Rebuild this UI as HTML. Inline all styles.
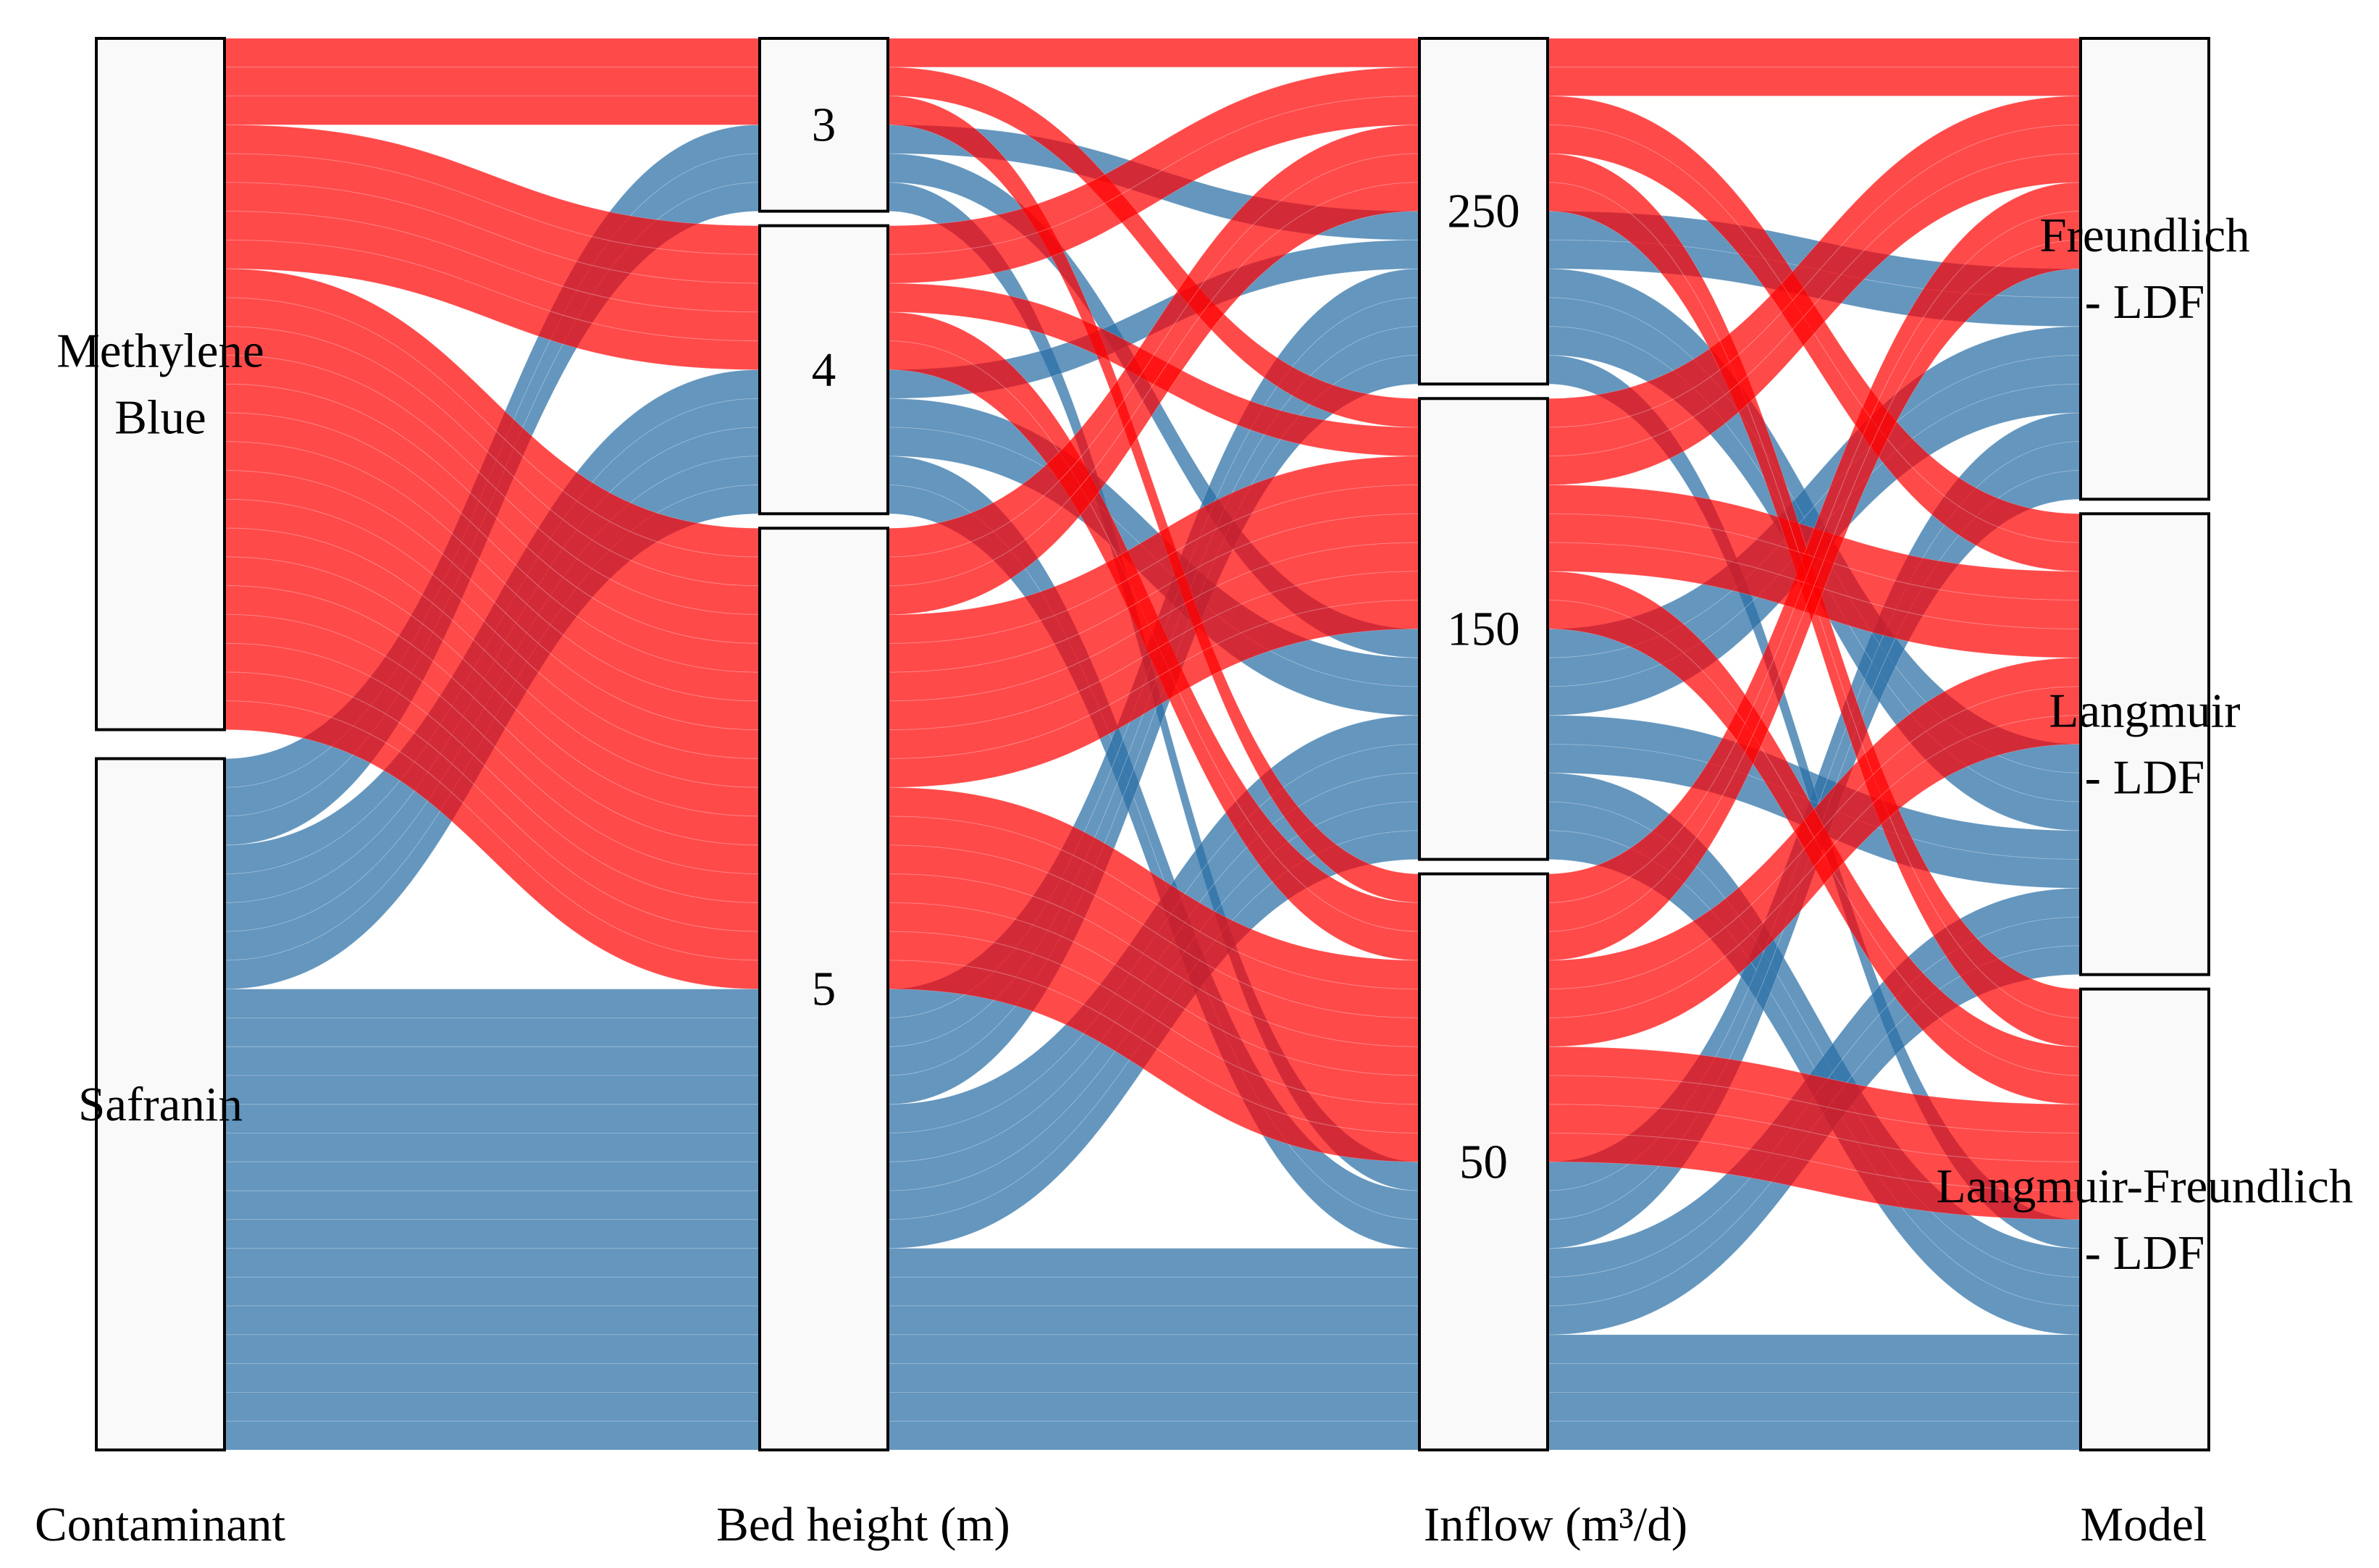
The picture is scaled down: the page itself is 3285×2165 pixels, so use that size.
<!DOCTYPE html>
<html><head><meta charset="utf-8"><style>
html,body{margin:0;padding:0;background:#fff;}
svg{display:block;}
text{font-family:"Liberation Serif",serif;fill:#000;}
</style></head><body>
<svg id="chart" width="3285" height="2165" viewBox="0 0 3285 2165" xmlns="http://www.w3.org/2000/svg">
<g id="flows"></g>
<g id="boxes"></g>
<g id="labels"></g>
</svg>
<script>
// data: one entry per record
const contaminant = ["MB","MB","MB","MB","MB","MB","MB","MB","MB","MB","MB","MB","MB","MB","MB","MB","MB","MB","MB","MB","MB","MB","MB","MB",
"S","S","S","S","S","S","S","S","S","S","S","S","S","S","S","S","S","S","S","S","S","S","S","S"];
const bedHeight = [3,3,3,4,4,4,4,4,5,5,5,5,5,5,5,5,5,5,5,5,5,5,5,5,
3,3,3,4,4,4,4,4,5,5,5,5,5,5,5,5,5,5,5,5,5,5,5,5];
const inflow = [250,150,50,250,250,150,50,50,250,250,250,150,150,150,150,150,150,50,50,50,50,50,50,50,
250,150,50,250,150,150,50,50,250,250,250,250,150,150,150,150,150,50,50,50,50,50,50,50];
const model = ["F","L","LF","L","LF","F","L","F","F","L","LF","F","L","LF","F","L","LF","F","L","LF","F","L","LF","LF",
"L","F","LF","F","LF","L","F","LF","F","L","LF","L","F","L","LF","F","LF","F","L","LF","L","F","LF","L"];
const axisTitles = ["Contaminant","Bed height (m)","Inflow (m³/d)","Model"];
const axisLevels = [["MB","S"],[3,4,5],[250,150,50],["F","L","LF"]];
const levelLabels = [[["Methylene","Blue"],["Safranin"]],[["3"],["4"],["5"]],[["250"],["150"],["50"]],[["Freundlich","- LDF"],["Langmuir","- LDF"],["Langmuir-Freundlich","- LDF"]]];

const NS="http://www.w3.org/2000/svg";
const axX=[133,1049,1960,2873], boxW=177, yTop=53, yBottom=2002, totalGap=40;
const cols=[contaminant,bedHeight,inflow,model];
const N=contaminant.length;
const colorOf=c=>c==="MB"?"rgba(255,0,0,0.71)":"rgba(40,110,165,0.72)";
const unit=(yBottom-yTop-totalGap)/N;
const nodes=axisLevels.map((lv,a)=>{
  const gap=totalGap/(lv.length-1); let y=yTop;
  return lv.map(v=>{const cnt=cols[a].filter(x=>x===v).length;const n={v,y0:y,h:cnt*unit};y+=n.h+gap;return n;});
});
const idx=(a,r)=>axisLevels[a].indexOf(cols[a][r]);
function ord(a,r,dir){
  const k=a+dir;
  return [idx(0,r),(k>=0&&k<4)?idx(k,r):0,r];
}
function cmp(x,y){for(let i=0;i<x.length;i++){if(x[i]!==y[i])return x[i]-y[i];}return 0;}
const outY=[],inY=[];
for(let a=0;a<4;a++){
  outY[a]=[];inY[a]=[];
  nodes[a].forEach((n,ni)=>{
    const rs=[...Array(N).keys()].filter(r=>idx(a,r)===ni);
    [...rs].sort((p,q)=>cmp(ord(a,p,1),ord(a,q,1))).forEach((r,i)=>outY[a][r]=n.y0+i*unit);
    [...rs].sort((p,q)=>cmp(ord(a,p,-1),ord(a,q,-1))).forEach((r,i)=>inY[a][r]=n.y0+i*unit);
  });
}
const fg=document.getElementById('flows');
for(let a=0;a<3;a++){
  const x0=axX[a]+boxW,x1=axX[a+1],mx=(x0+x1)/2;
  [...Array(N).keys()].sort((p,q)=>(contaminant[p]==="MB"?1:0)-(contaminant[q]==="MB"?1:0)).forEach(r=>{
    const ya=outY[a][r],yb=inY[a+1][r];
    const p=document.createElementNS(NS,'path');
    p.setAttribute('d',`M${x0},${ya} C${mx},${ya} ${mx},${yb} ${x1},${yb} L${x1},${yb+unit} C${mx},${yb+unit} ${mx},${ya+unit} ${x0},${ya+unit} Z`);
    p.setAttribute('fill',colorOf(contaminant[r]));
    p.setAttribute('stroke','rgba(255,255,255,0.2)');
    p.setAttribute('stroke-width','1');
    
    
    fg.appendChild(p);
  });
}
const bg=document.getElementById('boxes'),lg=document.getElementById('labels');
nodes.forEach((ns,a)=>{
  ns.forEach((n,ni)=>{
    const rc=document.createElementNS(NS,'rect');
    rc.setAttribute('x',axX[a]);rc.setAttribute('y',n.y0);rc.setAttribute('width',boxW);rc.setAttribute('height',n.h);
    rc.setAttribute('fill','#f9f9f9');rc.setAttribute('stroke','#000');rc.setAttribute('stroke-width','4');
    
    
    bg.appendChild(rc);
    const lines=levelLabels[a][ni];const cy=n.y0+n.h/2;const lh=92;
    lines.forEach((s,li)=>{
      const t=document.createElementNS(NS,'text');
      t.setAttribute('x',axX[a]+boxW/2);
      t.setAttribute('y',cy+(li-(lines.length-1)/2)*lh+22);
      t.setAttribute('text-anchor','middle');t.setAttribute('font-size','67');
      t.textContent=s;
      
      
      lg.appendChild(t);
    });
  });
  const t=document.createElementNS(NS,'text');
  const tx=[221,1192,2148,2960][a];
  t.setAttribute('x',tx);t.setAttribute('y',2127);t.setAttribute('text-anchor','middle');t.setAttribute('font-size','67');
  t.textContent=axisTitles[a];
  
  
  lg.appendChild(t);
});
</script>
</body></html>
